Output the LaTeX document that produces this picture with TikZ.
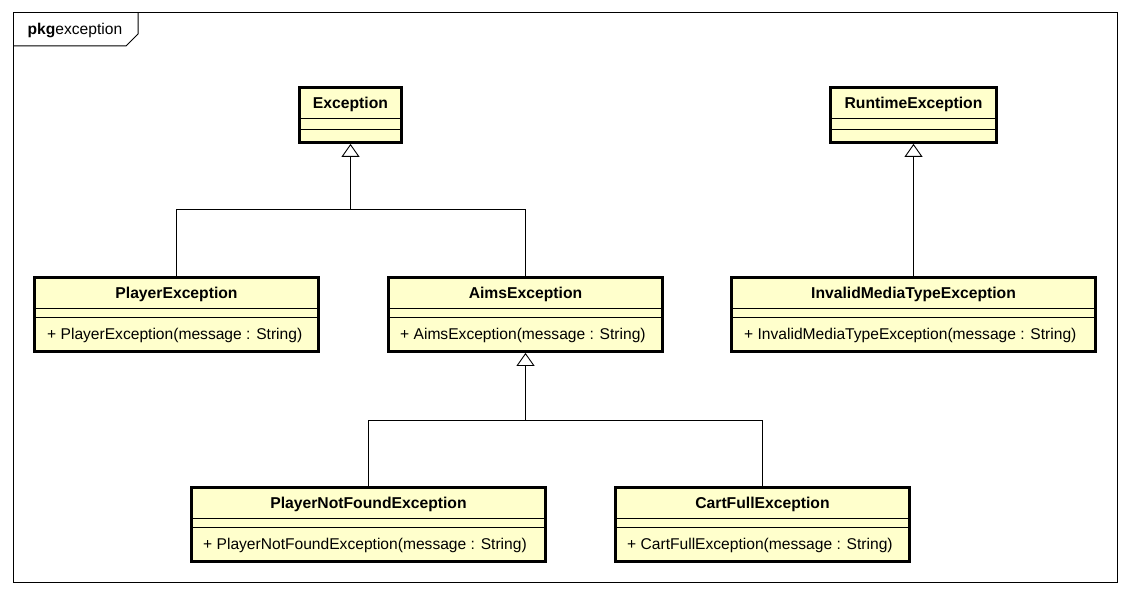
\documentclass[tikz,border=0pt]{standalone}
\usepackage{fontspec}
\setmainfont{Liberation Sans}
\usetikzlibrary{arrows.meta}

\definecolor{umlfill}{RGB}{255,255,204}

\tikzset{
	cls/.style={draw, line width=2.8pt, fill=umlfill, inner sep=0pt},
	cname/.style={font=\bfseries\fontsize{15.7}{18}\selectfont, anchor=base, inner sep=0pt},
	cop/.style={font=\fontsize{15.6}{18}\selectfont, anchor=base west, inner sep=0pt},
	sep/.style={line width=0.9pt},
	inh/.style={line width=0.9pt, -{Triangle[open, length=13pt, width=18pt, line width=0.9pt]}},
	lnk/.style={line width=0.9pt},
}

\begin{document}
\begin{tikzpicture}[x=1pt, y=-1pt]

	\useasboundingbox (0,0) rectangle (1130,596);

	% package frame
	\draw[line width=1pt] (13,13) rectangle (1117,582);
	\draw[line width=1pt] (13,46) -- (126,46) -- (138,34) -- (138,13);
	\node[cop] (pkgtab) at (27.5,35) {\textbf{pkg}exception};

	% Exception
	\node[cls, minimum width=102pt, minimum height=55pt] (exc) at (350.5,115) {};
	\node[cname] (excN) at (350.5,108.5) {Exception};
	\draw[sep] (299.5,118) -- (401.5,118);
	\draw[sep] (299.5,129) -- (401.5,129);

	% RuntimeException
	\node[cls, minimum width=166pt, minimum height=55pt] (rte) at (913.5,115) {};
	\node[cname] (rteN) at (913.5,108.5) {RuntimeException};
	\draw[sep] (830.5,118) -- (996.5,118);
	\draw[sep] (830.5,129) -- (996.5,129);

	% PlayerException
	\node[cls, minimum width=284pt, minimum height=74pt] (player) at (176.5,314.5) {};
	\node[cname] (playerN) at (176.5,298.5) {PlayerException};
	\draw[sep] (34.5,308) -- (318.5,308);
	\draw[sep] (34.5,317) -- (318.5,317);
	\node[cop] (playerOp) at (47,339.5) {+ PlayerException(message : String)};

	% AimsException
	\node[cls, minimum width=274pt, minimum height=74pt] (aims) at (525.5,314.5) {};
	\node[cname] (aimsN) at (525.5,298.5) {AimsException};
	\draw[sep] (388.5,308) -- (662.5,308);
	\draw[sep] (388.5,317) -- (662.5,317);
	\node[cop] (aimsOp) at (400,339.5) {+ AimsException(message : String)};

	% InvalidMediaTypeException
	\node[cls, minimum width=364pt, minimum height=74pt] (imt) at (913.5,314.5) {};
	\node[cname] (imtN) at (913.5,298.5) {InvalidMediaTypeException};
	\draw[sep] (731.5,308) -- (1095.5,308);
	\draw[sep] (731.5,317) -- (1095.5,317);
	\node[cop] (imtOp) at (744,339.5) {+ InvalidMediaTypeException(message : String)};

	% PlayerNotFoundException
	\node[cls, minimum width=354pt, minimum height=74pt] (pnf) at (368.5,524.5) {};
	\node[cname] (pnfN) at (368.5,508.5) {PlayerNotFoundException};
	\draw[sep] (191.5,518) -- (545.5,518);
	\draw[sep] (191.5,527) -- (545.5,527);
	\node[cop] (pnfOp) at (203,549.5) {+ PlayerNotFoundException(message : String)};

	% CartFullException
	\node[cls, minimum width=294pt, minimum height=74pt] (cart) at (762.5,524.5) {};
	\node[cname] (cartN) at (762.5,508.5) {CartFullException};
	\draw[sep] (615.5,518) -- (909.5,518);
	\draw[sep] (615.5,527) -- (909.5,527);
	\node[cop] (cartOp) at (627,549.5) {+ CartFullException(message : String)};

	% generalizations
	\coordinate (excJ) at (350.5,209);
	\draw[lnk] (player.north) |- (excJ);
	\draw[lnk] (aims.north) |- (excJ);
	\draw[inh] (excJ) -- (exc.south);

	\draw[inh] (imt.north) -- (rte.south);

	\coordinate (aimsJ) at (525.5,420);
	\draw[lnk] (pnf.north) |- (aimsJ);
	\draw[lnk] (cart.north) |- (aimsJ);
	\draw[inh] (aimsJ) -- (aims.south);

\end{tikzpicture}
\end{document}
